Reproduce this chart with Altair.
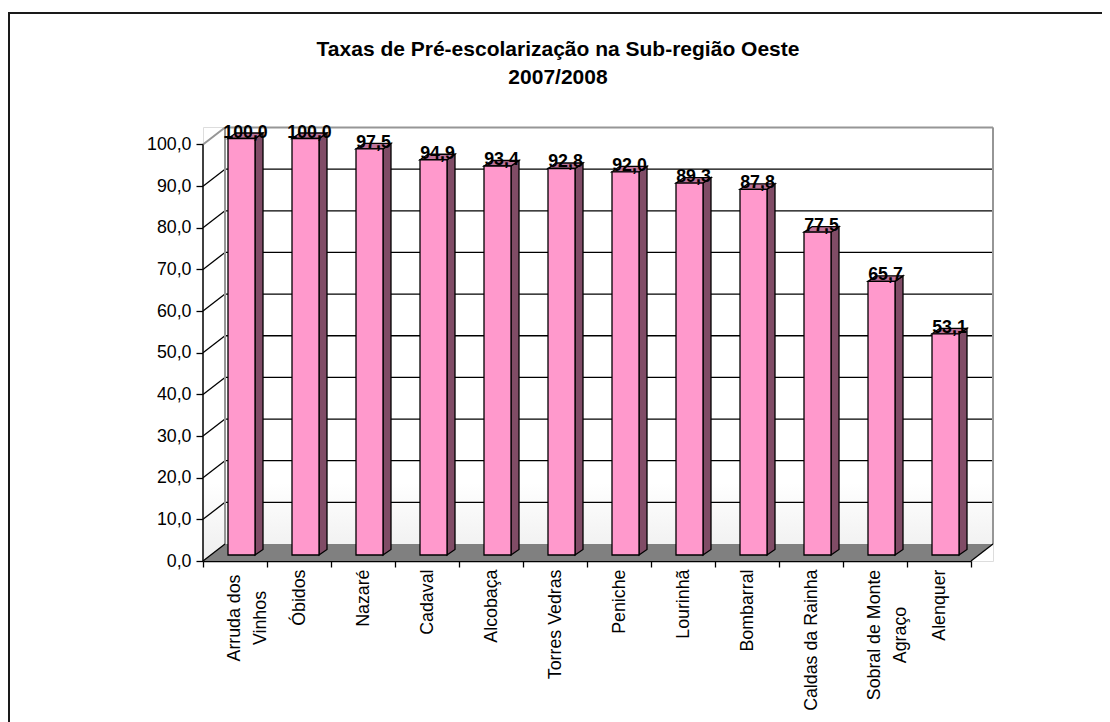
import altair as alt
import pandas as pd

TITLE = ["Taxas de Pré-escolarização na Sub-região Oeste", "2007/2008"]
CATEGORIES = ["Arruda dos Vinhos", "Óbidos", "Nazaré", "Cadaval", "Alcobaça", "Torres Vedras",
              "Peniche", "Lourinhã", "Bombarral", "Caldas da Rainha", "Sobral de Monte Agraço", "Alenquer"]
VALUES = [100.0, 100.0, 97.5, 94.9, 93.4, 92.8, 92.0, 89.3, 87.8, 77.5, 65.7, 53.1]
TICKS = list(range(0, 101, 10))

FONT = "Liberation Sans"
FS = 17.8
PINK, SIDE, TOP = "#FF99CC", "#804C66", "#BF7399"

# Pseudo-3D geometry, expressed in scale units
PX_X = 64.0          # px per category
PX_Y = 4.165         # px per value unit
PLOT_W, PLOT_H = 790, 434
WALL_DX, WALL_DY = 22 / PX_X, 17 / PX_Y
BAR_X0, BAR_W = 25 / PX_X, 27 / PX_X
BAR_BASE = 6 / PX_Y
DEPTH_X, DEPTH_Y = 8 / PX_X, 5.5 / PX_Y
N = len(CATEGORIES)

XQ = alt.Scale(domain=[0, PLOT_W / PX_X], nice=False, zero=False)
XN = alt.Scale(type="band", domain=CATEGORIES, range=[0, N * PX_X], paddingInner=0, paddingOuter=0)
YS = alt.Scale(domain=[0, PLOT_H / PX_Y], nice=False, zero=False)

y_axis = alt.Axis(
    values=TICKS, labelExpr="replace(format(datum.value, '.1f'), '.', ',')",
    labelFont=FONT, labelFontSize=FS, labelColor="#000000", labelPadding=5,
    tickSize=7, tickColor="#000000", tickWidth=1.3, domain=False, grid=False, title=None,
)


def xq(f):
    return alt.X(f"{f}:Q", scale=XQ, axis=None)


def yq(f):
    return alt.Y(f"{f}:Q", scale=YS, axis=y_axis)


def xn(axis=None):
    return alt.X("cat:N", scale=XN, sort=None, axis=axis, title=None)


rows = pd.DataFrame({
    "cat": CATEGORIES, "value": VALUES,
    "label": [f"{v:.1f}".replace(".", ",") for v in VALUES],
})
rows["i"] = range(N)
rows["top"] = rows["value"] + BAR_BASE
rows["base"] = BAR_BASE
rows["x0"] = rows["i"] + BAR_X0
rows["x1"] = rows["x0"] + BAR_W
rows["x2"] = rows["x1"] + DEPTH_X

# walls
wall_df = pd.DataFrame({
    "x": [0, WALL_DX, N + WALL_DX],
    "lo": [0, WALL_DY, WALL_DY],
    "hi": [100, 100 + WALL_DY, 100 + WALL_DY],
})
grad = alt.LinearGradient(gradient="linear", x1=0, y1=0, x2=0, y2=1, stops=[
    alt.GradientStop(color="#ffffff", offset=0),
    alt.GradientStop(color="#ffffff", offset=0.82),
    alt.GradientStop(color="#eeeeee", offset=1),
])
walls = alt.Chart(wall_df).mark_area(color=grad).encode(x=xq("x"), y=yq("lo"), y2="hi:Q")

floor_df = pd.DataFrame({"y": [0, WALL_DY], "a": [0, WALL_DX], "b": [N, N + WALL_DX]})
floor = alt.Chart(floor_df).mark_area(orient="horizontal", color="#808080").encode(
    y=yq("y"), x=xq("a"), x2="b:Q")

# black gridlines on back wall and left wall
black = [{"x": WALL_DX, "xe": N + WALL_DX, "y": t + WALL_DY, "ye": t + WALL_DY} for t in TICKS[1:-1]]
black += [{"x": 0, "xe": WALL_DX, "y": t, "ye": t + WALL_DY} for t in TICKS[1:-1]]
grid = alt.Chart(pd.DataFrame(black)).mark_rule(color="#000000", strokeWidth=1.3).encode(
    x=xq("x"), x2="xe:Q", y=yq("y"), y2="ye:Q")

# grey wall edges
grey = [
    {"x": 0, "xe": WALL_DX, "y": 100, "ye": 100 + WALL_DY},
    {"x": WALL_DX, "xe": N + WALL_DX, "y": 100 + WALL_DY, "ye": 100 + WALL_DY},
    {"x": WALL_DX, "xe": WALL_DX, "y": WALL_DY, "ye": 100 + WALL_DY},
    {"x": N + WALL_DX, "xe": N + WALL_DX, "y": WALL_DY, "ye": 100 + WALL_DY},
]
edges = alt.Chart(pd.DataFrame(grey)).mark_rule(color="#969696", strokeWidth=2).encode(
    x=xq("x"), x2="xe:Q", y=yq("y"), y2="ye:Q")

floor_edge = alt.Chart(pd.DataFrame([
    {"x": 0, "xe": WALL_DX, "y": 0, "ye": WALL_DY},
    {"x": N, "xe": N + WALL_DX, "y": 0, "ye": WALL_DY},
])).mark_rule(color="#000000", strokeWidth=1.3).encode(
    x=xq("x"), x2="xe:Q", y=yq("y"), y2="ye:Q")

y_line = alt.Chart(pd.DataFrame([{"x": 0, "y": 0, "ye": 100}])).mark_rule(color="#000000", strokeWidth=1.5).encode(
    x=xq("x"), y=yq("y"), y2="ye:Q")

# bar side faces: parallelograms
side_rows = []
top_rows = []
for r in rows.itertuples():
    side_rows += [
        {"cat": r.cat, "x": r.x1, "lo": r.base, "hi": r.top},
        {"cat": r.cat, "x": r.x2, "lo": r.base + DEPTH_Y, "hi": r.top + DEPTH_Y},
    ]
    top_rows += [
        {"cat": r.cat, "y": r.top, "a": r.x0, "b": r.x1},
        {"cat": r.cat, "y": r.top + DEPTH_Y, "a": r.x0 + DEPTH_X, "b": r.x2},
    ]
sides = alt.Chart(pd.DataFrame(side_rows)).mark_area(color=SIDE, stroke="#000000", strokeWidth=1.3).encode(
    x=xq("x"), y=yq("lo"), y2="hi:Q", detail="cat:N")
tops = alt.Chart(pd.DataFrame(top_rows)).mark_area(orient="horizontal", color=TOP, stroke="#000000", strokeWidth=1.3).encode(
    y=yq("y"), x=xq("a"), x2="b:Q", detail="cat:N")

TWO_LINE = {"Arruda dos Vinhos": "Arruda dos\nVinhos", "Sobral de Monte Agraço": "Sobral de Monte\nAgraço"}
blank = " || ".join(f"datum.label == '{k}'" for k in TWO_LINE)

x_axis = alt.Axis(
    tickBand="extent", labelAngle=-90, labelAlign="right", labelBaseline="middle",
    labelFont=FONT, labelFontSize=FS, labelColor="#000000", labelPadding=2, labelOverlap=False,
    labelLimit=300, labelBound=False, labelFlush=False,
    labelExpr=f"({blank}) ? '' : datum.label",
    tickSize=6, tickColor="#000000", tickWidth=1.3, domainColor="#000000", domainWidth=1.5,
    grid=False, title=None,
)

fronts = alt.Chart(rows).mark_bar(size=BAR_W * PX_X, xOffset=6.5, color=PINK, stroke="#000000", strokeWidth=1.3).encode(
    x=xn(x_axis), y=yq("top"), y2="base:Q")

labels = alt.Chart(rows).mark_text(
    font=FONT, fontSize=FS, fontWeight="bold", color="#000000", dx=10.5, dy=-1, baseline="alphabetic"
).encode(x=xn(), y=yq("top"), text="label:N")

long_labels = []
for name, center in (("Arruda dos Vinhos", 57), ("Sobral de Monte Agraço", 74)):
    long_labels.append(
        alt.Chart(pd.DataFrame({"cat": [name], "txt": [TWO_LINE[name]]})).mark_text(
            font=FONT, fontSize=FS, color="#000000", angle=270, align="center", baseline="middle",
            lineBreak="\n", lineHeight=25.5,
        ).encode(x=xn(), y=alt.value(PLOT_H + center), text="txt:N")
    )

frame = alt.Chart(pd.DataFrame({"a": [0]})).mark_rect(
    fill=None, stroke="#1a1a1a", strokeWidth=2
).encode(x=alt.value(-194), x2=alt.value(1200), y=alt.value(-114), y2=alt.value(800))

chart = alt.layer(
    frame, walls, floor, grid, edges, floor_edge, y_line, sides, tops, fronts, labels, *long_labels
).resolve_scale(x="independent").properties(
    width=PLOT_W, height=PLOT_H,
    autosize=alt.AutoSizeParams(type="none"),
    padding={"left": 195, "top": 119, "right": 109, "bottom": 161},
    title=alt.TitleParams(
        text=TITLE, font=FONT, fontSize=21, fontWeight="bold", color="#000000",
        anchor="middle", dx=-40, offset=-76, lineHeight=28.5,
    ),
).configure_view(stroke=None).configure(background="#ffffff")

chart.save("out.html", embed_options={"renderer": "svg", "actions": False})
